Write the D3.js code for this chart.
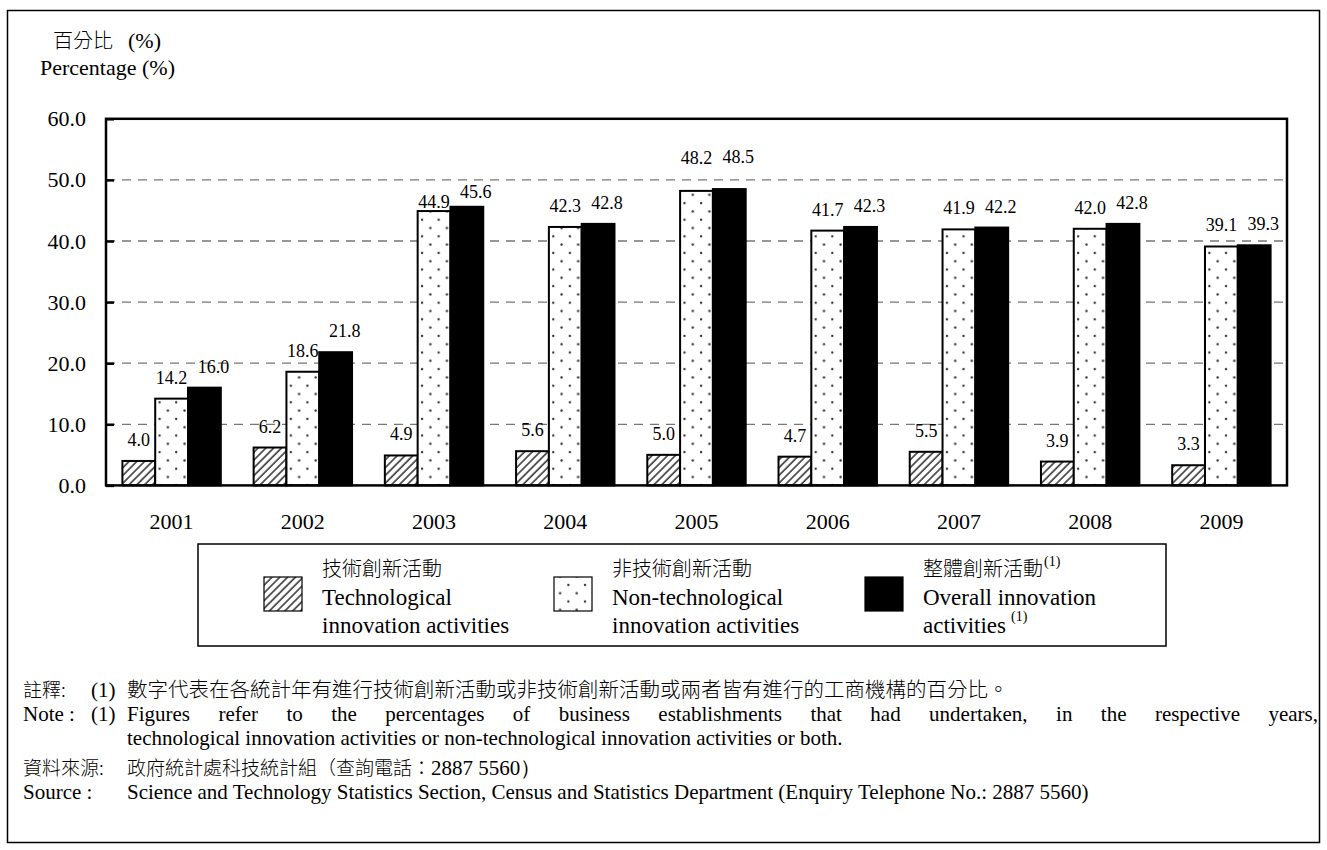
<!DOCTYPE html>
<html><head><meta charset="utf-8">
<script src="https://d3js.org/d3.v7.min.js"></script>
<style>
body{margin:0;background:#fff;}
svg text{font-family:"Liberation Serif","Times New Roman",serif;fill:#000;}
svg text.cjk{font-family:"Noto Sans CJK TC","Noto Sans CJK SC",sans-serif;font-weight:300;}
</style></head>
<body><svg id="c" width="1327" height="850"></svg>
<script>
const years = ["2001","2002","2003","2004","2005","2006","2007","2008","2009"];
const techValues = [4.0, 6.2, 4.9, 5.6, 5.0, 4.7, 5.5, 3.9, 3.3];
const nonTechValues = [14.2, 18.6, 44.9, 42.3, 48.2, 41.7, 41.9, 42.0, 39.1];
const overallValues = [16.0, 21.8, 45.6, 42.8, 48.5, 42.3, 42.2, 42.8, 39.3];
const yTicks = [0, 10, 20, 30, 40, 50, 60];
const seriesKeys = ["tech", "nontech", "overall"];
// small vertical nudges of value labels (px), as in the original
const nonTechLabelNudge = [0, 0, 12, 0, -12, 0, 0, 0, 0];
const overallLabelNudge = [0, 0, 6, 0, -11, 0, 0, 0, 0];

const svg = d3.select("#c");
const W = 1327, H = 850;
svg.append("rect").attr("x",0).attr("y",0).attr("width",W).attr("height",H).attr("fill","#fff");
// outer frame
svg.append("rect").attr("x",7.5).attr("y",10.5).attr("width",1312).attr("height",832)
  .attr("fill","none").attr("stroke","#000").attr("stroke-width",1.5);

const defs = svg.append("defs");
const hatch = defs.append("pattern").attr("id","hatch").attr("patternUnits","userSpaceOnUse")
  .attr("width",5.5).attr("height",5.5).attr("patternTransform","rotate(45)");
hatch.append("rect").attr("width",5.5).attr("height",5.5).attr("fill","#fff");
hatch.append("line").attr("x1",1).attr("y1",0).attr("x2",1).attr("y2",5.5).attr("stroke","#3a3a3a").attr("stroke-width",1.6);
const dots = defs.append("pattern").attr("id","dots").attr("patternUnits","userSpaceOnUse")
  .attr("width",16.6).attr("height",16.6);
dots.append("rect").attr("width",16.6).attr("height",16.6).attr("fill","#fff");
dots.append("circle").attr("cx",4).attr("cy",4).attr("r",1.2).attr("fill","#333");
dots.append("circle").attr("cx",12.3).attr("cy",12.3).attr("r",1.2).attr("fill","#333");

const fills = {tech:"url(#hatch)", nontech:"url(#dots)", overall:"#000"};
const valuesBy = {tech:techValues, nontech:nonTechValues, overall:overallValues};
const nudgeBy = {tech:techValues.map(()=>0), nontech:nonTechLabelNudge, overall:overallLabelNudge};
const labelDx = {tech:0, nontech:0, overall:9};

const m = {left:106, right:1287, top:118.8, bottom:485.4};
const x0 = d3.scaleBand().domain(years).range([m.left, m.right]).paddingInner(0.25).paddingOuter(0.125);
const x1 = d3.scaleBand().domain(seriesKeys).range([0, x0.bandwidth()]);
const y = d3.scaleLinear().domain([0,60]).range([m.bottom, m.top]);

// gridlines
svg.append("g").selectAll("line").data(yTicks.filter(t=>t>0 && t<60)).join("line")
  .attr("x1",m.left).attr("x2",m.right).attr("y1",d=>y(d)).attr("y2",d=>y(d))
  .attr("stroke","#777").attr("stroke-width",1.3).attr("stroke-dasharray","9,7");

// bars
const groups = svg.append("g").selectAll("g").data(years).join("g")
  .attr("transform",d=>`translate(${x0(d)},0)`);
seriesKeys.forEach(k=>{
  groups.append("rect")
    .attr("x",x1(k)).attr("width",x1.bandwidth())
    .attr("y",(d,i)=>y(valuesBy[k][i])).attr("height",(d,i)=>y(0)-y(valuesBy[k][i]))
    .attr("fill",fills[k]).attr("stroke","#000").attr("stroke-width",2);
  groups.append("text")
    .attr("x",x1(k)+x1.bandwidth()/2+labelDx[k])
    .attr("y",(d,i)=>y(valuesBy[k][i])-15+nudgeBy[k][i])
    .attr("text-anchor","middle").attr("font-size",18)
    .text((d,i)=>d3.format(".1f")(valuesBy[k][i]));
});

// frame
svg.append("rect").attr("x",m.left).attr("y",m.top).attr("width",m.right-m.left).attr("height",m.bottom-m.top)
  .attr("fill","none").attr("stroke","#000").attr("stroke-width",2.5);

// y axis
const yAxis = d3.axisLeft(y).tickValues(yTicks).tickFormat(d3.format(".1f")).tickSizeInner(-8).tickSizeOuter(0).tickPadding(20);
const ga = svg.append("g").attr("transform",`translate(${m.left},0)`).call(yAxis);
ga.select(".domain").remove();
ga.selectAll(".tick line").attr("stroke","#000").attr("stroke-width",2.5);
ga.selectAll("text").attr("font-size",22);

// x labels
svg.append("g").selectAll("text").data(years).join("text")
  .attr("x",d=>x0(d)+x0.bandwidth()/2).attr("y",529)
  .attr("text-anchor","middle").attr("font-size",22).text(d=>d);

// axis title
svg.append("text").attr("class","cjk").attr("x",53).attr("y",48).attr("font-size",20).text("百分比");
svg.append("text").attr("x",128).attr("y",48).attr("font-size",22).text("(%)");
svg.append("text").attr("x",40).attr("y",75).attr("font-size",22).text("Percentage (%)");

// legend
svg.append("rect").attr("x",198).attr("y",544).attr("width",968).attr("height",102)
  .attr("fill","#fff").attr("stroke","#000").attr("stroke-width",1.5);
const legendItems = [
  {k:"tech", sx:264, zh:"技術創新活動", en:["Technological","innovation activities"], sup:false},
  {k:"nontech", sx:554, zh:"非技術創新活動", en:["Non-technological","innovation activities"], sup:false},
  {k:"overall", sx:865, zh:"整體創新活動", en:["Overall innovation","activities"], sup:true}
];
legendItems.forEach(it=>{
  svg.append("rect").attr("x",it.sx).attr("y",577).attr("width",38).attr("height",34)
    .attr("fill",fills[it.k]).attr("stroke","#000").attr("stroke-width",1.2);
  const tx = it.sx+58;
  const t0 = svg.append("text").attr("class","cjk").attr("x",tx).attr("y",576).attr("font-size",20).text(it.zh);
  if(it.sup){
    const w0 = t0.node().getComputedTextLength();
    svg.append("text").attr("x",tx+w0+1).attr("y",566).attr("font-size",14).text("(1)");
  }
  svg.append("text").attr("x",tx).attr("y",605).attr("font-size",23).text(it.en[0]);
  const t2 = svg.append("text").attr("x",tx).attr("y",633).attr("font-size",23).text(it.en[1]);
  if(it.sup){
    const w2 = t2.node().getComputedTextLength();
    svg.append("text").attr("x",tx+w2+5).attr("y",621).attr("font-size",14).text("(1)");
  }
});

// notes
const notes = svg.append("g");
const fs = 21;
notes.append("text").attr("class","cjk").attr("x",23).attr("y",697).attr("font-size",19).text("註釋:");
notes.append("text").attr("x",91).attr("y",697).attr("font-size",fs).text("(1)");
notes.append("text").attr("class","cjk").attr("x",127).attr("y",697).attr("font-size",20.5)
  .text("數字代表在各統計年有進行技術創新活動或非技術創新活動或兩者皆有進行的工商機構的百分比。");
notes.append("text").attr("x",23).attr("y",721).attr("font-size",fs).text("Note :");
notes.append("text").attr("x",91).attr("y",721).attr("font-size",fs).text("(1)");
const just = notes.append("text").attr("x",127).attr("y",721).attr("font-size",fs)
  .text("Figures refer to the percentages of business establishments that had undertaken, in the respective years,");
{
  const wNat = just.node().getComputedTextLength();
  const str = just.text();
  const nSp = (str.match(/ /g)||[]).length;
  just.attr("word-spacing", ((1318-127) - wNat)/nSp);
}
notes.append("text").attr("x",127).attr("y",745).attr("font-size",fs)
  .text("technological innovation activities or non-technological innovation activities or both.");
notes.append("text").attr("class","cjk").attr("x",23).attr("y",775).attr("font-size",19).text("資料來源:");
const src = notes.append("text").attr("class","cjk").attr("x",127).attr("y",775).attr("font-size",19).text("政府統計處科技統計組（查詢電話：");
{
  const w = src.node().getComputedTextLength();
  notes.append("text").attr("x",127+w).attr("y",775).attr("font-size",fs).text("2887 5560）");
}
notes.append("text").attr("x",23).attr("y",799).attr("font-size",fs).text("Source :");
notes.append("text").attr("x",127).attr("y",799).attr("font-size",fs)
  .text("Science and Technology Statistics Section, Census and Statistics Department (Enquiry Telephone No.: 2887 5560)");
</script></body></html>
